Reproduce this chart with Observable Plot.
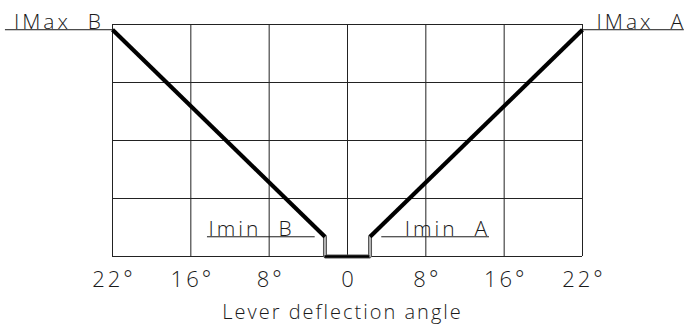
<!DOCTYPE html>
<html>
<head>
<meta charset="utf-8">
<script src="https://cdn.jsdelivr.net/npm/d3@7"></script>
<script src="https://cdn.jsdelivr.net/npm/@observablehq/plot@0.6"></script>
<style>
  html, body { margin: 0; padding: 0; background: #fff; }
  #chart svg { display: block; }
  /* wide, drafting-style lettering */
  #chart g.note text { letter-spacing: 3px; }
  #chart g.title text { letter-spacing: 2px; }
  #chart g[aria-label="x-axis tick label"] text { letter-spacing: 3px; }
</style>
</head>
<body>
<div id="chart"></div>
<script>
// Lever deflection angle (degrees, B side negative); the grid columns are equally spaced
const angles = [-22, -16, -8, 0, 8, 16, 22];
const tickLabels = ["22°", "16°", "8°", "0", "8°", "16°", "22°"];
const gridLevels = [0, 1, 2, 3, 4];

// Output current characteristic, in grid units
const bAngle = [-22, -2.3];
const bCurrent = [3.91, 0.34];
const aAngle = [2.3, 22];
const aCurrent = [0.34, 3.91];

// Dead band around the neutral position
const deadAngle = [-2.3, -2.3, 2.3, 2.3];
const deadCurrent = [0.34, 0, 0, 0.34];

// Level annotations
const noteText = ["IMax\u00a0\u00a0B", "IMax\u00a0\u00a0A", "Imin\u00a0\u00a0B", "Imin\u00a0\u00a0A"];
const noteAngle = [-26.1, 26.5, -9.8, 10.2];
const noteLevel = [3.91, 3.91, 0.34, 0.34];
const noteFrom = [-30.2, 22, -14.3, 3.5];
const noteTo = [-22, 29.8, -3.3, 14.5];

const xTitle = "Lever deflection angle";

// angle -> column position (piecewise linear, extrapolates beyond ±22°)
const column = d3.scaleLinear().domain(angles).range(angles.map((_, i) => i));

const pts = (xs, ys) => xs.map((x, i) => ({angle: x, current: ys[i]}));
const notes = noteText.map((t, i) => ({
  text: t, angle: noteAngle[i], level: noteLevel[i], from: noteFrom[i], to: noteTo[i]
}));
const colX = (d) => column(d.angle);

const ink = "#1a1a1a";
const font = "'Open Sans', 'DejaVu Sans', sans-serif";

const chart = Plot.plot({
  width: 687,
  height: 324,
  marginTop: 24,
  marginBottom: 68,
  marginLeft: 112,
  marginRight: 105,
  style: {fontFamily: font, fontWeight: 300, background: "#fff", color: ink},
  x: {domain: [0, angles.length - 1]},
  y: {domain: [0, 4], axis: null},
  marks: [
    // grid
    Plot.ruleX(angles, {x: (a) => column(a), y1: 0, y2: 4, stroke: "#222", strokeWidth: 1}),
    Plot.ruleY(gridLevels, {x1: 0, x2: angles.length - 1, stroke: "#222", strokeWidth: 1}),
    // dead band: outlined verticals and bottom
    Plot.line(pts(deadAngle, deadCurrent), {x: colX, y: "current", stroke: "#555", strokeWidth: 4, strokeLinejoin: "miter"}),
    Plot.line(pts(deadAngle, deadCurrent), {x: colX, y: "current", stroke: "#d8d8d8", strokeWidth: 1.4, strokeLinejoin: "miter"}),
    Plot.ruleY([0], {x1: column(deadAngle[1]), x2: column(deadAngle[2]), stroke: "#000", strokeWidth: 2.5}),
    // characteristic lines
    Plot.line(pts(bAngle, bCurrent), {x: colX, y: "current", stroke: "#000", strokeWidth: 4.2, strokeLinecap: "butt"}),
    Plot.line(pts(aAngle, aCurrent), {x: colX, y: "current", stroke: "#000", strokeWidth: 4.2, strokeLinecap: "butt"}),
    // level labels with underlines
    Plot.ruleY(notes, {y: "level", x1: (d) => column(d.from), x2: (d) => column(d.to), stroke: ink, strokeWidth: 1}),
    Plot.text(notes, {x: colX, y: "level", text: "text", textAnchor: "middle", lineAnchor: "bottom", dy: -1, fontSize: 21, fill: ink, className: "note"}),
    // axis
    Plot.axisX({ticks: angles.map((_, i) => i), tickFormat: (i) => tickLabels[i], tickSize: 0, tickPadding: 15, dx: 1.5, fontSize: 22, label: null, fill: ink}),
    Plot.text([xTitle], {frameAnchor: "bottom", lineAnchor: "bottom", dy: 62, dx: -5, fontSize: 20, fill: ink, className: "title"})
  ]
});

document.getElementById("chart").appendChild(chart);
</script>
</body>
</html>
